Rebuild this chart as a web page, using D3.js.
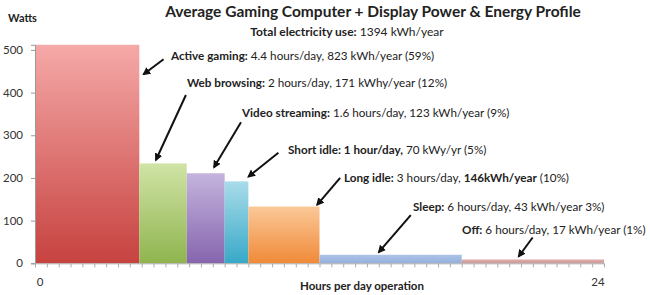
<!DOCTYPE html>
<html><head><meta charset="utf-8">
<script src="https://cdn.jsdelivr.net/npm/d3@7"></script>
<style>
html,body{margin:0;padding:0;background:#fff;}
svg{display:block;font-family:Lato,"Open Sans",sans-serif;}
</style></head>
<body>
<svg id="chart" width="650" height="295"></svg>
<script>
// ---- data ----
const categories = ["Active gaming","Web browsing","Video streaming","Short idle","Long idle","Sleep","Off"];
const hoursPerDay = [4.4, 2, 1.6, 1, 3, 6, 6];
const watts = [512, 234, 211, 192, 133, 20, 9];
const yTicks = [0, 100, 200, 300, 400, 500];
const xTickLabels = [0, 24];
// label segments: [text, bold]
const labelSegments = [
  [["Active gaming:", true], [" 4.4 hours/day, 823 kWh/year (59%)", false]],
  [["Web browsing:", true], [" 2 hours/day, 171 kWhy/year (12%)", false]],
  [["Video streaming:", true], [" 1.6 hours/day, 123 kWh/year (9%)", false]],
  [["Short idle: 1 hour/day,", true], [" 70 kWy/yr (5%)", false]],
  [["Long idle:", true], [" 3 hours/day, ", false], ["146kWh/year", true], [" (10%)", false]],
  [["Sleep:", true], [" 6 hours/day, 43 kWh/year 3%)", false]],
  [["Off:", true], [" 6 hours/day, 17 kWh/year (1%)", false]]
];
// arrow tips in data units (hour, watts)
const arrowTipHour = [4.58, 5.1, 7.55, 9.0, 11.9, 14.5, 20.4];
const arrowTipWatt = [443, 242, 225, 203, 137, 26, 16];
const titleText = "Average Gaming Computer + Display Power & Energy Profile";
const totalBold = "Total electricity use:";
const totalRest = " 1394 kWh/year";

const colorsTop = ["#f5a9a8","#d0e4a6","#c4b4de","#a9dcea","#fbc898","#adc4e7","#ddaeac"];
const colorsBot = ["#c6423f","#8fb44e","#8665ad","#37a9c7","#f08a38","#93afdc","#cf9794"];

// ---- layout ----
const svg = d3.select("#chart");
const x = d3.scaleLinear().domain([0, 24]).range([35, 604]);
const y = d3.scaleLinear().domain([0, 512]).range([263.3, 44.8]);

const defs = svg.append("defs");
categories.forEach((c, i) => {
  const g = defs.append("linearGradient").attr("id", "g" + i)
    .attr("x1", 0).attr("y1", 0).attr("x2", 0).attr("y2", 1);
  g.append("stop").attr("offset", "0%").attr("stop-color", colorsTop[i]);
  g.append("stop").attr("offset", "100%").attr("stop-color", colorsBot[i]);
});
const m = defs.append("marker").attr("id", "ah").attr("viewBox", "0 0 10 10")
  .attr("refX", 8).attr("refY", 5).attr("markerWidth", 4).attr("markerHeight", 4)
  .attr("orient", "auto");
m.append("path").attr("d", "M0,0 L10,5 L0,10 z").attr("fill", "#111");

const starts = [];
hoursPerDay.reduce((acc, h) => { starts.push(acc); return acc + h; }, 0);

svg.append("g").selectAll("rect").data(categories).join("rect")
  .attr("x", (d, i) => x(starts[i]))
  .attr("width", (d, i) => x(starts[i] + hoursPerDay[i]) - x(starts[i]))
  .attr("y", (d, i) => y(watts[i]))
  .attr("height", (d, i) => y(0) - y(watts[i]))
  .attr("fill", (d, i) => "url(#g" + i + ")");

// axes
const yAxis = d3.axisLeft(y).tickValues(yTicks).tickSize(4).tickPadding(6);
const yg = svg.append("g").attr("transform", "translate(35,0)").call(yAxis);
yg.select(".domain").attr("stroke", "#999");
yg.selectAll(".tick line").attr("stroke", "#999");
yg.selectAll(".tick text").attr("font-size", 11.5).attr("fill", "#333")
  .attr("font-family", "Lato, sans-serif").attr("dx", -2);

const xAxis = d3.axisBottom(x).tickValues(d3.range(0, 24.01, 0.5)).tickSize(4)
  .tickFormat(() => "");
const xg = svg.append("g").attr("transform", "translate(0," + y(0) + ")").call(xAxis);
xg.select(".domain").attr("stroke", "#aaa").attr("d", "M" + x(0) + ",0.5H" + x(24));
xg.selectAll(".tick line").attr("stroke", "#aaa");

svg.append("g").selectAll("text").data(xTickLabels).join("text")
  .attr("x", (d, i) => x(d) + (i === 0 ? 5 : -6))
  .attr("y", 286).attr("text-anchor", "middle")
  .attr("font-size", 11.5).attr("fill", "#333").text(d => d);

// axis titles
svg.append("text").attr("x", 8).attr("y", 22).attr("font-size", 11)
  .attr("font-weight", "bold").attr("fill", "#222").text("Watts");
svg.append("text").attr("x", 362).attr("y", 290).attr("text-anchor", "middle")
  .attr("font-size", 11.5).attr("font-weight", "bold").attr("fill", "#222")
  .text("Hours per day operation");

// title
svg.append("text").attr("x", 373).attr("y", 17).attr("text-anchor", "middle")
  .attr("font-size", 15.5).attr("font-weight", "bold").attr("fill", "#222").text(titleText);

const tot = svg.append("text").attr("x", 347).attr("y", 36).attr("text-anchor", "middle")
  .attr("font-size", 12).attr("fill", "#222");
tot.append("tspan").attr("font-weight", "bold").text(totalBold);
tot.append("tspan").text(totalRest);

// annotation labels
const labelX = [171, 187, 242, 288, 344, 413, 462];
const labelY = [60, 87, 117, 154, 182, 211, 234];
const tailDx = [20, 30, 27, 30, 23, 32, 14];
const tailDy = [-15, -65, -45, -24, -27, -37, -19];

const lab = svg.append("g").selectAll("text").data(labelSegments).join("text")
  .attr("x", (d, i) => labelX[i]).attr("y", (d, i) => labelY[i])
  .attr("font-size", 11.7).attr("fill", "#222");
lab.selectAll("tspan").data(d => d).join("tspan")
  .attr("font-weight", d => d[1] ? "bold" : "normal")
  .text(d => d[0]);

svg.append("g").selectAll("line").data(categories).join("line")
  .attr("x1", (d, i) => x(arrowTipHour[i]) + tailDx[i])
  .attr("y1", (d, i) => y(arrowTipWatt[i]) + tailDy[i])
  .attr("x2", (d, i) => x(arrowTipHour[i]))
  .attr("y2", (d, i) => y(arrowTipWatt[i]))
  .attr("stroke", "#111").attr("stroke-width", 2)
  .attr("marker-end", "url(#ah)");
</script>
</body></html>
